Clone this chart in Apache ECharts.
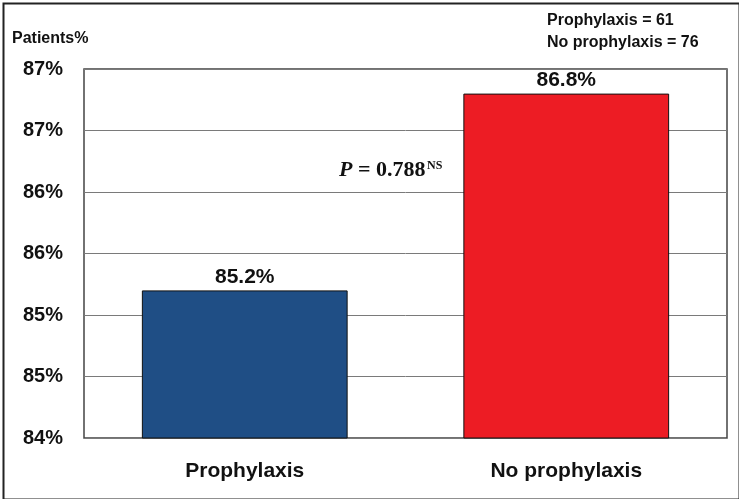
<!DOCTYPE html>
<html>
<head>
<meta charset="utf-8">
<script src="https://cdn.jsdelivr.net/npm/echarts@6/dist/echarts.min.js"></script>
<style>html,body{margin:0;padding:0;background:#fff}#c{width:739px;height:499px}</style>
</head>
<body>
<div id="c"></div>
<script>
const categories = ['Prophylaxis', 'No prophylaxis'];
const values = [85.2, 86.8];
const barColors = ['#1F4E85', '#ED1C24'];
const yMin = 84, yMax = 87, yStep = 0.5;
const sampleNotes = ['Prophylaxis = 61', 'No prophylaxis = 76'];

const chart = echarts.init(document.getElementById('c'));
const F = 'Liberation Sans, Arial, sans-serif';
const S = 'Liberation Serif, Times New Roman, serif';
chart.setOption({
  animation: false,
  backgroundColor: '#fff',
  grid: { left: 84, right: 12, top: 69, bottom: 61, show: true, borderColor: '#444', borderWidth: 1.5, backgroundColor: 'transparent' },
  xAxis: {
    type: 'category', data: categories,
    axisLine: { show: false }, axisTick: { show: false },
    axisLabel: { color: '#111', fontFamily: F, fontWeight: 'bold', fontSize: 21, margin: 23 }
  },
  yAxis: {
    type: 'value', min: yMin, max: yMax, interval: yStep,
    axisLine: { show: false }, axisTick: { show: false },
    splitLine: { lineStyle: { color: '#7a7a7a', width: 1 } },
    axisLabel: { color: '#111', fontFamily: F, fontWeight: 'bold', fontSize: 20, margin: 21, formatter: v => Math.round(v) + '%' }
  },
  series: [{
    type: 'bar', barWidth: '64%',
    data: values.map((v, i) => ({ value: v, itemStyle: { color: barColors[i] } })),
    itemStyle: { borderColor: '#111', borderWidth: 1 },
    label: { show: true, position: 'top', distance: 3, color: '#111', fontFamily: F, fontWeight: 'bold', fontSize: 21, formatter: p => p.value.toFixed(1) + '%' }
  }],
  graphic: [
    { type: 'rect', left: 1, top: 1, shape: { width: 736, height: 496 }, style: { fill: 'none', stroke: '#222', lineWidth: 2 }, silent: true },
    { type: 'text', left: 12, top: 31, style: { text: 'Patients%', fill: '#111', font: 'bold 16px ' + F } },
    { type: 'text', left: 547, top: 10, style: { text: sampleNotes.join('\n'), fill: '#111', font: 'bold 16px ' + F, lineHeight: 22 } },
    { type: 'text', left: 339, top: 159, style: { text: '{i|P}{n| = 0.788}', fill: '#111', rich: { i: { font: 'italic bold 22px ' + S }, n: { font: 'bold 22px ' + S } } } },
    { type: 'text', left: 427, top: 160, style: { text: 'NS', fill: '#111', font: 'bold 12px ' + S } }
  ]
});
</script>
</body>
</html>
